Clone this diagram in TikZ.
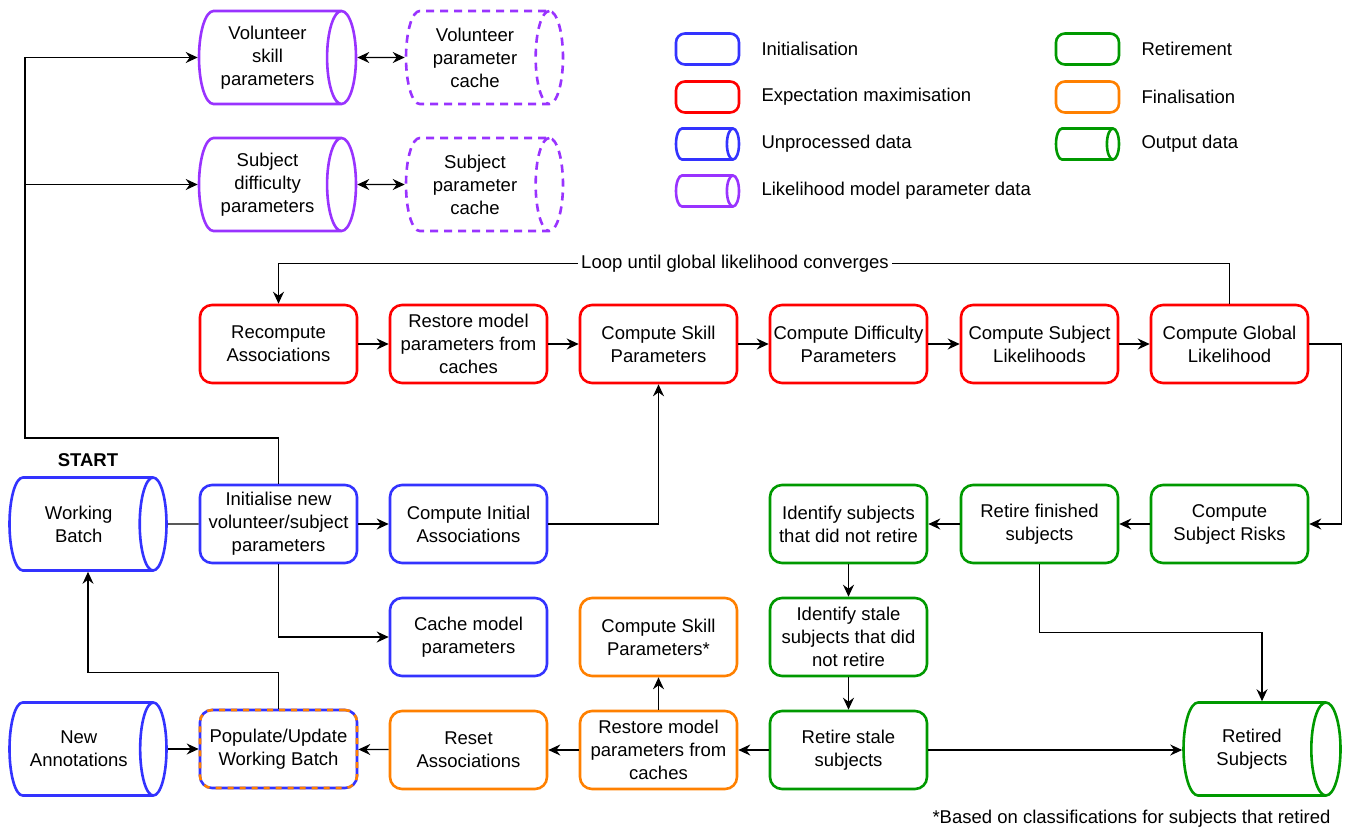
\documentclass[tikz,border=0pt]{standalone}
\usepackage{fontspec}
\setmainfont{Liberation Sans}
\usetikzlibrary{arrows.meta,shapes.geometric}
\definecolor{initblue}{HTML}{3333FF}
\definecolor{emred}{HTML}{FF0000}
\definecolor{parpurple}{HTML}{9933FF}
\definecolor{retgreen}{HTML}{009900}
\definecolor{finorange}{HTML}{FF8000}
\tikzset{
  every node/.style={font=\fontsize{18.5}{23}\selectfont},
  stage/.style={draw, rounded corners=12pt, line width=2.6pt, minimum width=157pt,
    minimum height=78pt, align=center, inner sep=2pt, fill=white},
  store/.style={draw, cylinder, aspect=0.43, line width=2.6pt, minimum height=157pt,
    minimum width=93pt, align=center, inner sep=2pt, anchor=shape center},
  shortstore/.style={store, aspect=0.66},
  cachestore/.style={store, dash pattern=on 8pt off 6pt},
  key/.style={draw, rounded corners=9pt, line width=2.6pt, minimum width=63pt,
    minimum height=31pt, inner sep=0pt},
  keystore/.style={draw, cylinder, aspect=0.39, line width=2.6pt, minimum height=63pt,
    minimum width=31pt, inner xsep=0pt, inner ysep=15.5pt, anchor=shape center},
  arr/.style={-{Stealth[length=12pt,width=11pt,inset=4pt]}, line width=1.3pt},
  dblarr/.style={{Stealth[length=12pt,width=11pt,inset=4pt]}-{Stealth[length=12pt,width=11pt,inset=4pt]}, line width=1.3pt},
}
\begin{document}
\begin{tikzpicture}[x=1pt,y=-1pt]
\useasboundingbox (0,0) rectangle (1349,831);

% parameter data
\node[store, draw=parpurple] (volskill) at (277.5,57.5) {Volunteer\\skill\\parameters};
\node[cachestore, draw=parpurple] (volcache) at (484.5,57.5) {Volunteer\\parameter\\cache};
\node[store, draw=parpurple] (subdiff) at (277.5,184.5) {Subject\\difficulty\\parameters};
\node[cachestore, draw=parpurple] (subcache) at (484.5,184.5) {Subject\\parameter\\cache};
\draw[dblarr] (volskill.east) -- (volcache.west);
\draw[dblarr] (subdiff.east) -- (subcache.west);

% legend
\node[key, draw=initblue] (keyinit) at (707.5,49) {};
\node[key, draw=emred] (keyem) at (707.5,97) {};
\node[keystore, draw=initblue] (keyraw) at (707.5,144) {};
\node[keystore, draw=parpurple] (keypar) at (707.5,191) {};
\node[anchor=west] (keyinittxt) at (758,49) {Initialisation};
\node[anchor=west] (keyemtxt) at (758,97) {Expectation maximisation};
\node[anchor=west] (keyrawtxt) at (758,144) {Unprocessed data};
\node[anchor=west] (keypartxt) at (758,191) {Likelihood model parameter data};
\node[key, draw=retgreen] (keyret) at (1087.5,49) {};
\node[key, draw=finorange] (keyfin) at (1087.5,97) {};
\node[keystore, draw=retgreen] (keyout) at (1087.5,144) {};
\node[anchor=west] (keyrettxt) at (1138,49) {Retirement};
\node[anchor=west] (keyfintxt) at (1138,97) {Finalisation};
\node[anchor=west] (keyouttxt) at (1138,144) {Output data};

% expectation maximisation
\node[stage, draw=emred] (recomp) at (278.5,344) {Recompute\\Associations};
\node[stage, draw=emred] (restore) at (468.5,344) {Restore model\\parameters from\\caches};
\node[stage, draw=emred] (skill) at (658.5,344) {Compute Skill\\Parameters};
\node[stage, draw=emred] (diff) at (848.5,344) {Compute Difficulty\\Parameters};
\node[stage, draw=emred] (sublik) at (1039.5,344) {Compute Subject\\Likelihoods};
\node[stage, draw=emred] (globlik) at (1229.5,344) {Compute Global\\Likelihood};
\draw[arr] (recomp) -- (restore);
\draw[arr] (restore) -- (skill);
\draw[arr] (skill) -- (diff);
\draw[arr] (diff) -- (sublik);
\draw[arr] (sublik) -- (globlik);
\draw[arr] (globlik.north) -- ++(0,-40) -| (recomp.north);
\node[fill=white, inner sep=3pt] (looplbl) at (735,264) {Loop until global likelihood converges};

% initialisation
\node[shortstore, draw=initblue] (wbatch) at (88,524) {Working\\Batch};
\node at (88,460) {\textbf{START}};
\node[stage, draw=initblue] (init) at (278.5,524) {Initialise new\\volunteer/subject\\parameters};
\node[stage, draw=initblue] (initassoc) at (468.5,524) {Compute Initial\\Associations};
\node[stage, draw=initblue] (cache) at (468.5,637) {Cache model\\parameters};
\coordinate (bus) at (25,438);
\draw[line width=1.3pt] (wbatch.east) -- (init.west);
\draw[arr] (init) -- (initassoc);
\draw[arr] (init.south) |- (cache.west);
\draw[arr] (initassoc.east) -| (skill.south);
\draw[arr] (init.north) |- (bus) |- (volskill.west);
\draw[arr] (bus |- subdiff.west) -- (subdiff.west);

% retirement
\node[stage, draw=retgreen] (risks) at (1229.5,524) {Compute\\Subject Risks};
\node[stage, draw=retgreen] (retfin) at (1039.5,524) {Retire finished\\subjects};
\node[stage, draw=retgreen] (identify) at (848.5,524) {Identify subjects\\that did not retire};
\node[stage, draw=retgreen] (stale) at (848.5,637) {Identify stale\\subjects that did\\not retire};
\node[stage, draw=retgreen] (retstale) at (848.5,750) {Retire stale\\subjects};
\node[shortstore, draw=retgreen] (retired) at (1262,749) {Retired\\Subjects};
\draw[arr] (globlik.east) -- ++(32,0) |- (risks.east);
\draw[arr] (risks) -- (retfin);
\draw[arr] (retfin) -- (identify);
\draw[arr] (identify) -- (stale);
\draw[arr] (stale) -- (retstale);
\draw[arr] (retstale.east) -- (retstale.east -| retired.west);
\draw[arr] (retfin.south) -- ++(0,68) -| (retired.north -| retired.shape center);

% finalisation
\node[stage, draw=finorange] (restorefin) at (658.5,750) {Restore model\\parameters from\\caches};
\node[stage, draw=finorange] (skillfin) at (658.5,637) {Compute Skill\\Parameters*};
\node[stage, draw=finorange] (reset) at (468.5,750) {Reset\\Associations};
\node[stage, draw=initblue, postaction={draw=finorange, dash pattern=on 6pt off 6pt}] (populate) at (278.5,749) {Populate/Update\\Working Batch};
\node[shortstore, draw=initblue] (newann) at (88,749) {New\\Annotations};
\draw[arr] (retstale) -- (restorefin);
\draw[arr] (restorefin) -- (skillfin);
\draw[arr] (restorefin) -- (reset);
\draw[arr] (reset) -- (populate);
\draw[arr] (newann.east) -- (newann.east -| populate.west);
\draw[arr] (populate.north) -- ++(0,-36) -| (wbatch.south -| wbatch.shape center);

\node[anchor=east] (footnote) at (1334,819) {*Based on classifications for subjects that retired};
\end{tikzpicture}
\end{document}
